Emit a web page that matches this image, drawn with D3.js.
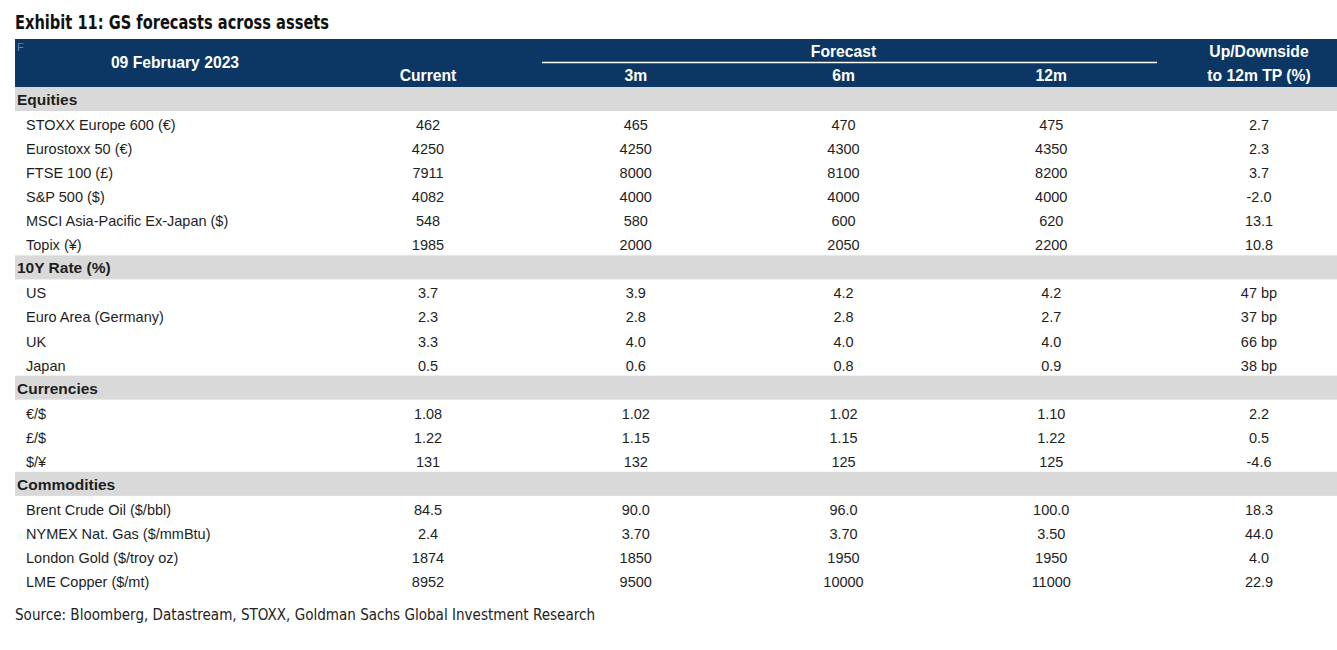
<!DOCTYPE html>
<html><head><meta charset="utf-8">
<script src="https://cdn.jsdelivr.net/npm/d3@7"></script>
<style>
body{margin:0;background:#fff;}
svg{display:block;}
</style></head>
<body>
<svg id="chart" width="1337" height="650"></svg>
<script>
const title = "Exhibit 11: GS forecasts across assets";
const dateLabel = "09 February 2023";
const columns = ["Current", "3m", "6m", "12m", "to 12m TP (%)"];
const sections = ["Equities", "10Y Rate (%)", "Currencies", "Commodities"];
const sectionOf = [0,0,0,0,0,0, 1,1,1,1, 2,2,2, 3,3,3,3];
const labels = ["STOXX Europe 600 (€)", "Eurostoxx 50 (€)", "FTSE 100 (£)", "S&P 500 ($)", "MSCI Asia-Pacific Ex-Japan ($)", "Topix (¥)",
  "US", "Euro Area (Germany)", "UK", "Japan",
  "€/$", "£/$", "$/¥",
  "Brent Crude Oil ($/bbl)", "NYMEX Nat. Gas ($/mmBtu)", "London Gold ($/troy oz)", "LME Copper ($/mt)"];
const current = ["462","4250","7911","4082","548","1985", "3.7","2.3","3.3","0.5", "1.08","1.22","131", "84.5","2.4","1874","8952"];
const f3m = ["465","4250","8000","4000","580","2000", "3.9","2.8","4.0","0.6", "1.02","1.15","132", "90.0","3.70","1850","9500"];
const f6m = ["470","4300","8100","4000","600","2050", "4.2","2.8","4.0","0.8", "1.02","1.15","125", "96.0","3.70","1950","10000"];
const f12m = ["475","4350","8200","4000","620","2200", "4.2","2.7","4.0","0.9", "1.10","1.22","125", "100.0","3.50","1950","11000"];
const updown = ["2.7","2.3","3.7","-2.0","13.1","10.8", "47 bp","37 bp","66 bp","38 bp", "2.2","0.5","-4.6", "18.3","44.0","4.0","22.9"];
const source = "Source: Bloomberg, Datastream, STOXX, Goldman Sachs Global Investment Research";

const svg = d3.select("#chart");
const navy = "#0c3764", gray = "#d9d9d9", ink = "#1e1e1e";
const sansF = "'Liberation Sans', Arial, sans-serif";
const condF = "'DejaVu Sans Condensed', 'Liberation Sans Narrow', sans-serif";
const left = 15, right = 1337;

// build row list
const rows = [];
sections.forEach((s, si) => {
  rows.push({type: "section", label: s});
  labels.forEach((l, i) => {
    if (sectionOf[i] === si) rows.push({type: "item", label: l, vals: [current[i], f3m[i], f6m[i], f12m[i], updown[i]]});
  });
});

const y = d3.scaleBand().domain(d3.range(rows.length)).range([87, 87 + rows.length * 24.05]).padding(0);
const x = d3.scalePoint().domain(columns).range([428, 1259]);

// title
svg.append("text").attr("x", 15).attr("y", 29).attr("font-family", condF).attr("font-weight", "bold")
  .attr("font-size", 20).attr("fill", "#111").attr("textLength", 314).attr("lengthAdjust", "spacingAndGlyphs").text(title);

// header
svg.append("rect").attr("x", left).attr("y", 39).attr("width", right - left).attr("height", 48).attr("fill", navy);
svg.append("text").attr("x", 17).attr("y", 51).attr("font-family", sansF).attr("font-size", 11).attr("fill", "#6a7f99").text("F");
const hdr = (t, cx, cy) => svg.append("text").attr("x", cx).attr("y", cy).attr("text-anchor", "middle")
  .attr("font-family", sansF).attr("font-weight", "bold").attr("font-size", 15.7).attr("fill", "#fff").text(t);
hdr(dateLabel, 175, 68);
hdr("Forecast", (x("3m") + x("12m")) / 2, 57);
svg.append("line").attr("x1", 542).attr("x2", 1157).attr("y1", 62.5).attr("y2", 62.5).attr("stroke", "#fff").attr("stroke-width", 1.5);
columns.forEach(c => hdr(c, x(c), 81));
hdr("Up/Downside", x("to 12m TP (%)"), 57);

// rows
const g = svg.selectAll("g.row").data(rows).join("g").attr("class", "row")
  .attr("transform", (d, i) => `translate(0,${y(i)})`);
g.filter(d => d.type === "section").append("rect").attr("x", left).attr("width", right - left)
  .attr("height", y.bandwidth()).attr("fill", gray);
g.filter(d => d.type === "section").append("text").attr("x", 17).attr("y", y.bandwidth() / 2 + 6)
  .attr("font-family", sansF).attr("font-weight", "bold").attr("font-size", 15.5).attr("fill", ink).text(d => d.label);
const items = g.filter(d => d.type === "item");
items.append("text").attr("x", 26).attr("y", y.bandwidth() / 2 + 7)
  .attr("font-family", sansF).attr("font-size", 14.5).attr("fill", ink).text(d => d.label);
items.selectAll("text.v").data(d => d.vals).join("text").attr("class", "v")
  .attr("x", (v, j) => x(columns[j])).attr("y", y.bandwidth() / 2 + 7).attr("text-anchor", "middle")
  .attr("font-family", sansF).attr("font-size", 14.5).attr("fill", ink).text(v => v);

// source
svg.append("text").attr("x", 15).attr("y", 620).attr("font-family", condF).attr("font-size", 16.5)
  .attr("fill", "#222").attr("textLength", 580).attr("lengthAdjust", "spacingAndGlyphs").text(source);
</script>
</body></html>
